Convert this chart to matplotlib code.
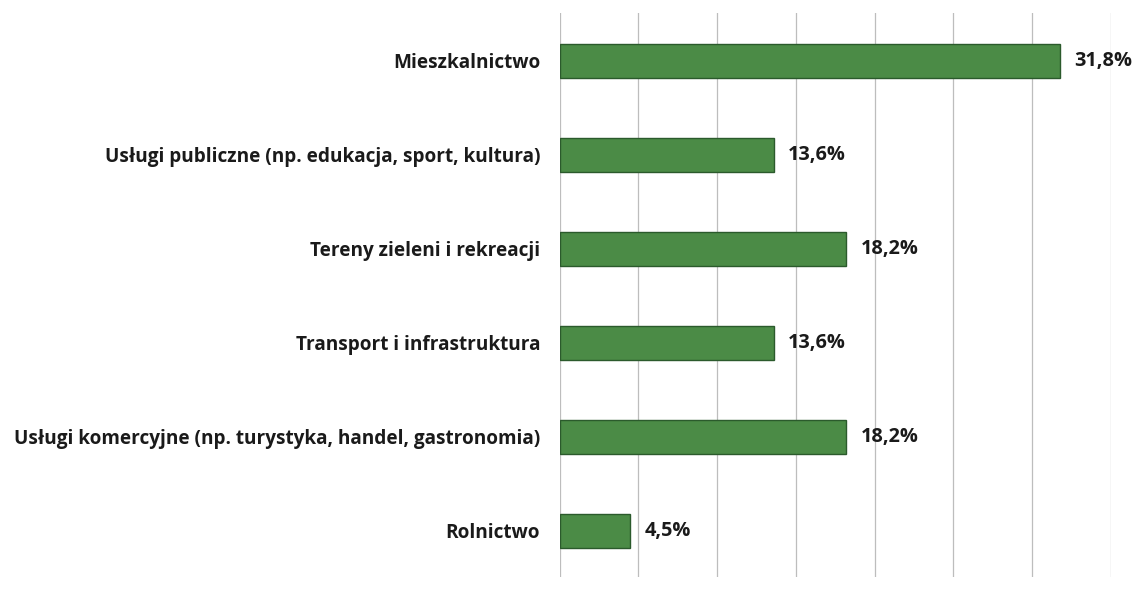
import matplotlib.pyplot as plt

categories = [
    "Mieszkalnictwo",
    "Usługi publiczne (np. edukacja, sport, kultura)",
    "Tereny zieleni i rekreacji",
    "Transport i infrastruktura",
    "Usługi komercyjne (np. turystyka, handel, gastronomia)",
    "Rolnictwo",
]
values = [31.8, 13.6, 18.2, 13.6, 18.2, 4.5]
value_labels = ["31,8%", "13,6%", "18,2%", "13,6%", "18,2%", "4,5%"]

plt.rcParams['font.family'] = ['Open Sans', 'DejaVu Sans']

fig = plt.figure(figsize=(11.34, 5.99), dpi=100)
ax = fig.add_axes([0.4935, 0.0367, 0.486, 0.9416])

ypos = list(range(len(categories)))
ax.barh(ypos, values, height=0.36, color='#4b8b46', edgecolor='#2b5a2c',
        linewidth=1.0, zorder=3)

for y, v, lab in zip(ypos, values, value_labels):
    ax.text(v + 0.9, y, lab, va='center', ha='left', fontsize=14.3,
            fontweight='bold', color='#1a1a1a', zorder=4)

ax.set_xlim(0, 35)
ax.set_ylim(len(categories) - 0.51, -0.51)
ax.set_xticks(range(0, 36, 5))
ax.set_xticklabels([])
ax.set_yticks(ypos)
ax.set_yticklabels(categories, fontsize=13.7, fontweight='bold', color='#1a1a1a')
ax.tick_params(axis='both', length=0)
ax.tick_params(axis='y', pad=14)
ax.grid(axis='x', color='#bdbdbd', linewidth=0.9, zorder=0)
for s in ax.spines.values():
    s.set_visible(False)

fig.savefig('out.png', dpi=100)
